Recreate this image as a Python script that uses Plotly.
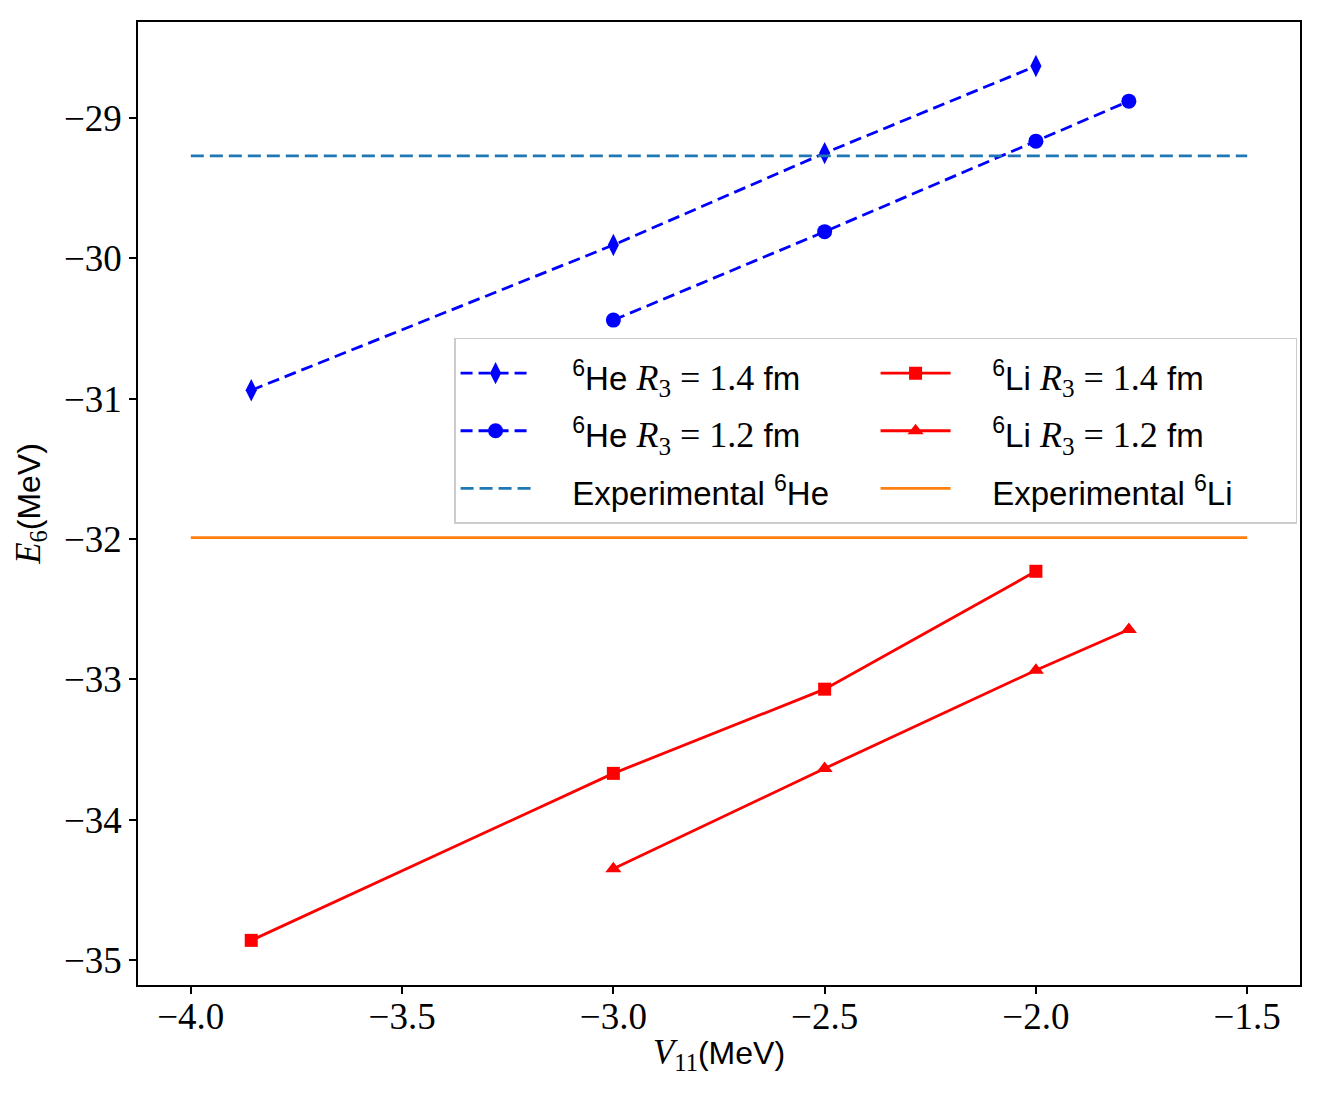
import plotly.graph_objects as go

# Data
v11_r14 = [-3.857, -3.0, -2.5, -2.0]
v11_r12 = [-3.0, -2.5, -2.0, -1.78]
he_r14 = [-30.94, -29.905, -29.25, -28.63]
he_r12 = [-30.44, -29.81, -29.165, -28.88]
li_r14 = [-34.86, -33.67, -33.07, -32.23]
li_r12 = [-34.35, -33.635, -32.935, -32.645]
exp_x = [-4.0, -1.5]
exp_he = -29.27
exp_li = -31.99

x_ticks = [-4.0, -3.5, -3.0, -2.5, -2.0, -1.5]
y_ticks = [-35, -34, -33, -32, -31, -30, -29]

SERIF = "'Liberation Serif', 'DejaVu Serif', serif"
SANS = "'Liberation Sans', 'DejaVu Sans', sans-serif"
PAD = "\u00a0" * 4

def math(s, size=None):
    sz = f";font-size:{size}px" if size else ""
    return f"<span style=\"font-family:{SERIF}{sz}\">{s}</span>"

def txt(s, size=33):
    return f"<span style=\"font-size:{size}px\">{s}</span>"

def lab(nuc, r):
    return txt(f"{PAD}<sup>6</sup>{nuc} ") + math(f"<i>R</i><sub>3</sub> = {r}", 36) + txt(" fm")

fig = go.Figure()
fig.add_trace(go.Scatter(x=v11_r14, y=he_r14, mode="lines+markers", name=lab("He", "1.4"),
                         line=dict(color="#0000ff", width=2.8, dash="12px,6px"),
                         marker=dict(symbol="diamond-tall", size=16, color="#0000ff")))
fig.add_trace(go.Scatter(x=v11_r14, y=li_r14, mode="lines+markers", name=lab("Li", "1.4"),
                         line=dict(color="#ff0000", width=2.8),
                         marker=dict(symbol="square", size=13, color="#ff0000")))
fig.add_trace(go.Scatter(x=v11_r12, y=he_r12, mode="lines+markers", name=lab("He", "1.2"),
                         line=dict(color="#0000ff", width=2.8, dash="12px,6px"),
                         marker=dict(symbol="circle", size=15, color="#0000ff")))
fig.add_trace(go.Scatter(x=v11_r12, y=li_r12, mode="lines+markers", name=lab("Li", "1.2"),
                         line=dict(color="#ff0000", width=2.8),
                         marker=dict(symbol="triangle-up", size=14, color="#ff0000")))
fig.add_trace(go.Scatter(x=exp_x, y=[exp_he] * 2, mode="lines",
                         name=txt(f"{PAD}Experimental <sup>6</sup>He"),
                         line=dict(color="#1f77b4", width=2.8, dash="13px,6px")))
fig.add_trace(go.Scatter(x=exp_x, y=[exp_li] * 2, mode="lines",
                         name=txt(f"{PAD}Experimental <sup>6</sup>Li"),
                         line=dict(color="#ff7f0e", width=2.8)))

axis_common = dict(showline=True, linecolor="black", linewidth=1.5, mirror=True,
                   ticks="outside", ticklen=7, tickwidth=1.5, tickcolor="black",
                   showgrid=False, zeroline=False,
                   tickfont=dict(family=SERIF, size=37, color="black"))

fig.update_layout(
    width=1324, height=1094,
    margin=dict(l=138, r=24, t=22, b=109),
    paper_bgcolor="white", plot_bgcolor="white",
    font=dict(family=SANS, size=30, color="black"),
    xaxis=dict(range=[-4.125, -1.375], tickvals=x_ticks,
               ticktext=[f"\u2212{abs(v):.1f}" for v in x_ticks],
               ticklabelstandoff=-9,
               title=dict(text=math("<i>V</i><sub>11</sub>", 35) + "(MeV)",
                          font=dict(size=32), standoff=5),
               **axis_common),
    yaxis=dict(range=[-35.178, -28.316], tickvals=y_ticks,
               ticktext=[f"\u2212{abs(v)}" for v in y_ticks],
               title=dict(text=math("<i>E</i><sub>6</sub>", 35) + "(MeV)",
                          font=dict(size=32), standoff=14),
               **axis_common),
    legend=dict(orientation="h", x=0.272, y=0.672, xanchor="left", yanchor="top",
                entrywidth=335, itemwidth=70, bgcolor="rgba(255,255,255,0.9)",
                bordercolor="#cccccc", borderwidth=1.5,
                font=dict(family=SANS, size=42)),
    showlegend=True,
)

fig.write_html("out.html")
